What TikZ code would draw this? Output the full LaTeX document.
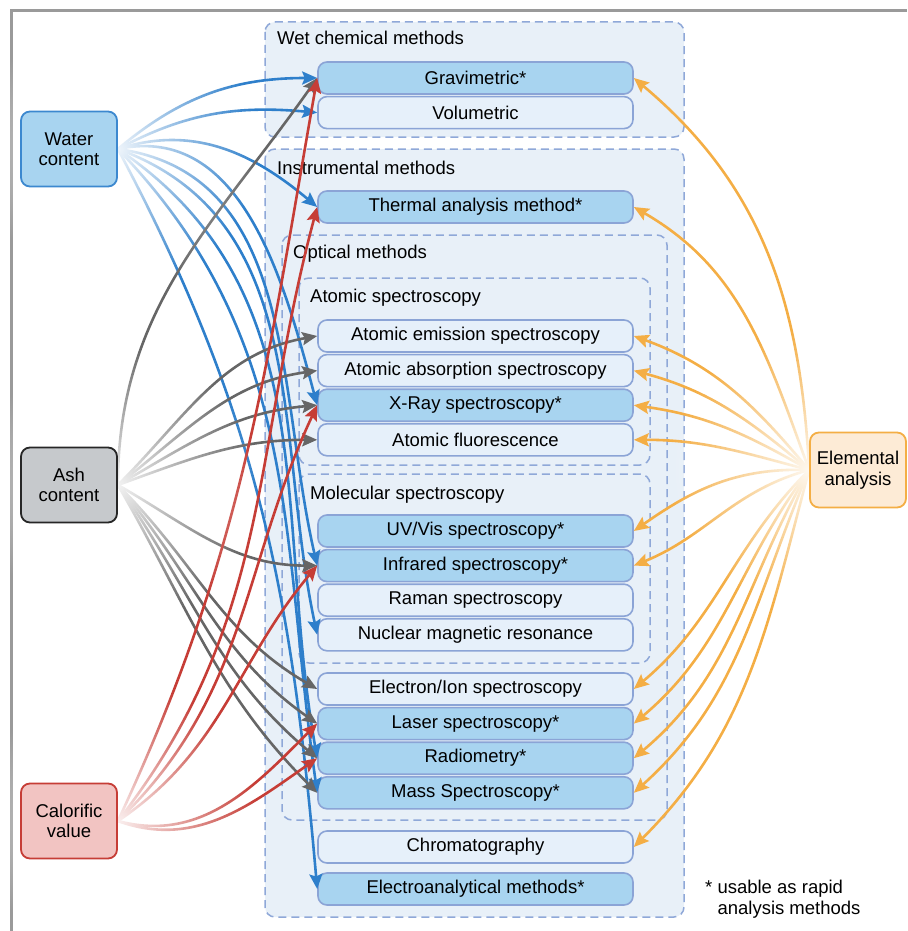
\documentclass[tikz,border=0pt]{standalone}
\usepackage{fontspec}
\setmainfont{Liberation Sans}
\usetikzlibrary{arrows.meta,positioning,fadings}

\definecolor{rapidfill}{HTML}{A8D4F0}
\definecolor{plainfill}{HTML}{E6F0FA}
\definecolor{boxline}{HTML}{8BA4D6}
\definecolor{groupfill}{HTML}{E8F0F8}
\definecolor{groupline}{HTML}{8FA8D8}
\definecolor{framegray}{HTML}{9A9A9A}
\definecolor{waterblue}{HTML}{2E7FCB}
\definecolor{waterline}{HTML}{3C88CF}
\definecolor{ashgray}{HTML}{666666}
\definecolor{ashfill}{HTML}{C6C9CC}
\definecolor{calred}{HTML}{C63D36}
\definecolor{calfill}{HTML}{F2C4C2}
\definecolor{elemorange}{HTML}{F4AE45}
\definecolor{elemfill}{HTML}{FDEBD6}

\pgfdeclarelayer{background}
\pgfdeclarelayer{fadelayer}
\pgfdeclarelayer{foreground}
\pgfsetlayers{background,main,fadelayer,foreground}

\tikzstyle{methodbox}=[
	rectangle,
	rounded corners=9pt,
	draw=boxline,
	line width=1.6pt,
	fill=plainfill,
	minimum width=315pt,
	minimum height=32pt,
	inner sep=0pt
]
\tikzstyle{rapidbox}=[
	methodbox,
	fill=rapidfill
]
\tikzstyle{groupbox}=[
	draw=groupline,
	dash pattern=on 8pt off 5pt,
	line width=1.5pt,
	rounded corners=10pt
]
\tikzstyle{grouplabel}=[
	anchor=base west,
	inner sep=0pt
]
\tikzstyle{source}=[
	rectangle,
	rounded corners=9pt,
	line width=1.8pt,
	minimum width=96pt,
	minimum height=75pt,
	align=center
]
\tikzstyle{link}=[
	-{Stealth[length=15pt,width=13pt,inset=2.5pt]},
	line width=2.6pt
]

\tikzfading[name=fade source, inner color=transparent!8, outer color=transparent!100]

\begin{document}
\begin{tikzpicture}[x=1pt, y=1pt, node distance=1pt, font=\fontsize{18.5}{20.5}\selectfont]
\useasboundingbox (0,0) rectangle (907,-931);
\draw[framegray, line width=3pt] (11,-931) |- (907,-11);

% groups of methods
\begin{pgfonlayer}{background}
\draw[groupbox, fill=groupfill] (265,-22) rectangle (684,-137);
\draw[groupbox, fill=groupfill] (265,-149) rectangle (684,-917);
\draw[groupbox] (282,-235) rectangle (667,-820);
\draw[groupbox] (299,-278) rectangle (650,-465);
\draw[groupbox] (299,-474) rectangle (650,-663);
\end{pgfonlayer}
\node[grouplabel] (wetlabel) at (277,-45) {Wet chemical methods};
\node[grouplabel] (instlabel) at (277,-174) {Instrumental methods};
\node[grouplabel] (optlabel) at (293,-258) {Optical methods};
\node[grouplabel] (atomlabel) at (310,-302) {Atomic spectroscopy};
\node[grouplabel] (mollabel) at (310,-499) {Molecular spectroscopy};

% methods
\node[rapidbox] (grav) at (475.5,-78) {Gravimetric*};
\node[methodbox] (vol) [below=of grav] {Volumetric};
\node[rapidbox] (therm) at (475.5,-207) {Thermal analysis method*};
\node[methodbox] (aes) at (475.5,-336) {Atomic emission spectroscopy};
\node[methodbox] (aas) [below=of aes] {Atomic absorption spectroscopy};
\node[rapidbox] (xray) [below=of aas] {X-Ray spectroscopy*};
\node[methodbox] (af) [below=of xray] {Atomic fluorescence};
\node[rapidbox] (uv) at (475.5,-531) {UV/Vis spectroscopy*};
\node[rapidbox] (ir) [below=of uv] {Infrared spectroscopy*};
\node[methodbox] (raman) [below=of ir] {Raman spectroscopy};
\node[methodbox] (nmr) [below=of raman] {Nuclear magnetic resonance};
\node[methodbox] (eis) at (475.5,-689) {Electron/Ion spectroscopy};
\node[rapidbox] (laser) [below=of eis] {Laser spectroscopy*};
\node[rapidbox] (radio) [below=of laser] {Radiometry*};
\node[rapidbox] (mass) [below=of radio] {Mass Spectroscopy*};
\node[methodbox] (chrom) at (475.5,-847) {Chromatography};
\node[rapidbox] (electro) at (475.5,-889) {Electroanalytical methods*};

% quantities to determine
\begin{pgfonlayer}{foreground}
\node[source, fill=rapidfill, draw=waterline] (water) at (69,-149) {Water\\content};
\node[source, fill=ashfill, draw=black!85] (ash) at (69,-485) {Ash\\content};
\node[source, fill=calfill, draw=calred] (calor) at (69,-821) {Calorific\\value};
\node[source, fill=elemfill, draw=elemorange] (elem) at (858,-470) {Elemental\\analysis};
\end{pgfonlayer}

\node[anchor=base west, inner sep=0pt, align=left] (note) at (705,-914) {* usable as rapid\\\hphantom{* }analysis methods};

% links
\foreach \dest/\aout/\ain in {grav/40/180, vol/28/175, therm/18/140, xray/12/105, ir/-8/103, nmr/-20/102, radio/-34/100, mass/-46/98, electro/-62/95}
	\draw[link, waterblue] (water.east) to[out=\aout, in=\ain] (\dest.west);
\foreach \dest/\aout/\ain in {grav/90/235, aes/45/190, aas/38/188, xray/30/185, af/20/180, ir/-30/180, eis/-45/150, laser/-50/145, radio/-55/140, mass/-60/135}
	\draw[link, ashgray] (ash.east) to[out=\aout, in=\ain] (\dest.west);
\foreach \dest/\aout/\ain in {grav/65/260, therm/52/255, xray/44/245, ir/34/230, laser/-15/225, radio/-20/215}
	\draw[link, calred] (calor.east) to[out=\aout, in=\ain] (\dest.west);
\foreach \dest/\aout/\ain in {grav/93/-40, therm/110/-30, aes/130/-20, aas/140/-15, xray/150/-8, af/165/0, uv/178/35, ir/195/22, eis/225/40, laser/233/40, radio/240/40, mass/247/42, chrom/255/45}
	\draw[link, elemorange] (elem.west) to[out=\aout, in=\ain] (\dest.east);

% links fade out near their source
\begin{pgfonlayer}{fadelayer}
\foreach \src in {water, ash, calor}
	\fill[white, path fading=fade source] (\src.east) circle (140pt);
\fill[white, path fading=fade source] (elem.west) circle (140pt);
\end{pgfonlayer}
\end{tikzpicture}
\end{document}
